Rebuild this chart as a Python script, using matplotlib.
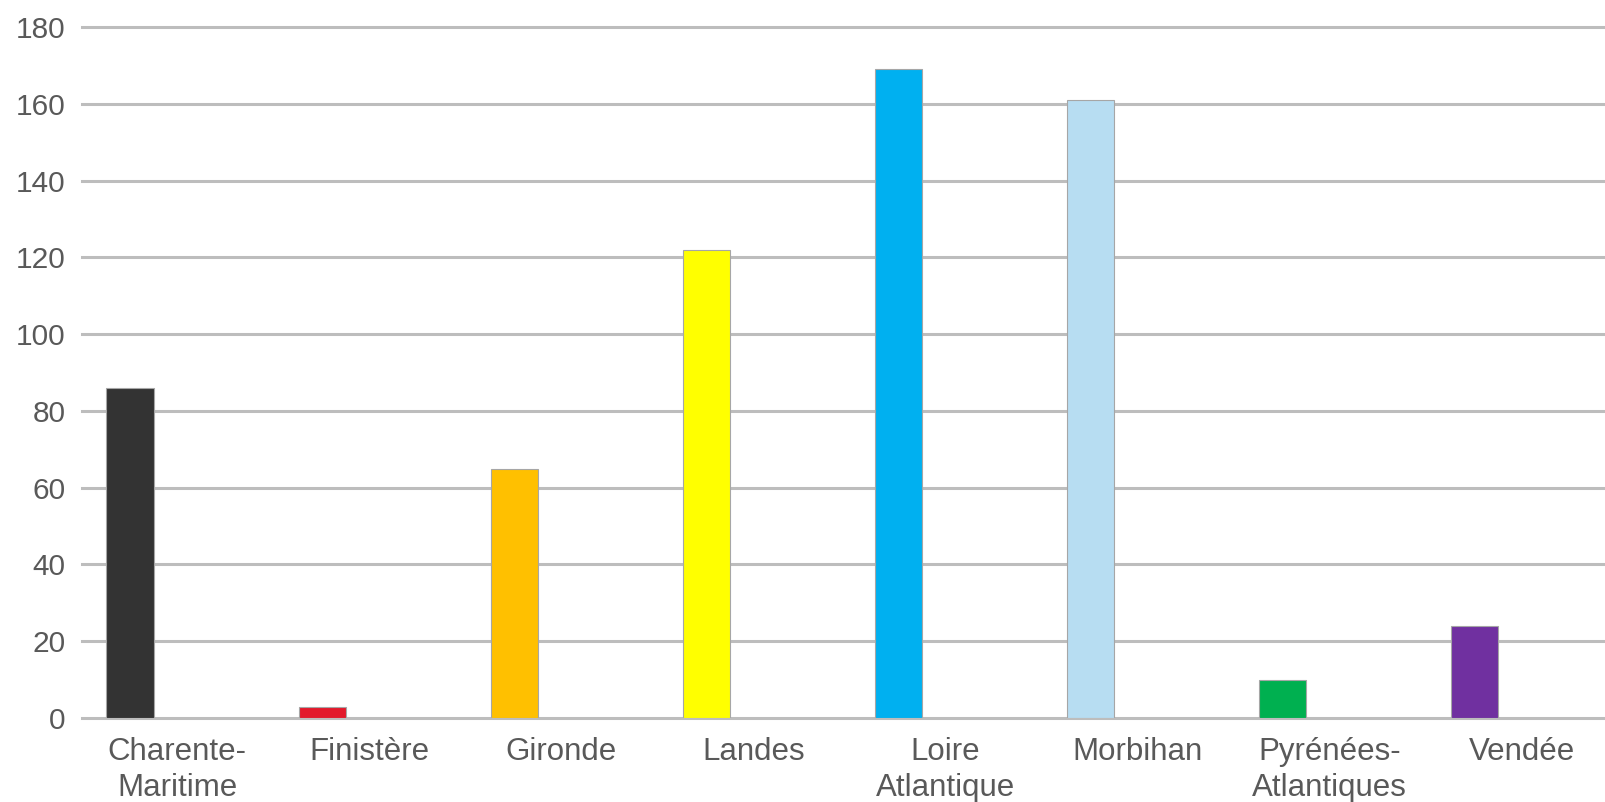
import matplotlib
matplotlib.use("Agg")
import matplotlib.pyplot as plt

# departements and counts
departements = ["Charente-\nMaritime", "Finistère", "Gironde", "Landes",
                "Loire\nAtlantique", "Morbihan", "Pyrénées-\nAtlantiques", "Vendée"]
valeurs = [86, 3, 65, 122, 169, 161, 10, 24]
couleurs = ["#333333", "#E3192B", "#FFC000", "#FFFF00",
            "#00B0F0", "#B7DDF2", "#00B050", "#7030A0"]
yticks = [0, 20, 40, 60, 80, 100, 120, 140, 160, 180]

plt.rcParams['font.family'] = ['Liberation Sans', 'DejaVu Sans']

fig = plt.figure(figsize=(16.06, 8.02), dpi=100)
ax = fig.add_axes([0.0511, 0.1047, 0.9489, 0.8616])

x = list(range(len(departements)))
bar_x = [i - 0.245 for i in x]
ax.bar(bar_x, valeurs, width=0.245, color=couleurs,
       edgecolor="#A6A6A6", linewidth=0.8, zorder=3)

ax.set_xlim(-0.4945, 7.439)
ax.set_ylim(0, 180)
ax.set_yticks(yticks)
ax.set_xticks(x)
ax.set_xticklabels(departements, fontsize=22.5, color="#595959", linespacing=1.22)
ax.tick_params(axis='y', length=0, pad=12, labelsize=21.5, labelcolor="#595959")
ax.tick_params(axis='x', length=0, pad=14)

ax.yaxis.grid(True, color="#BDBDBD", linewidth=2.2, zorder=0)
ax.set_axisbelow(True)
for s in ax.spines.values():
    s.set_visible(False)
for line in ax.get_ygridlines():
    line.set_clip_on(False)

fig.savefig("out.png", dpi=100)
